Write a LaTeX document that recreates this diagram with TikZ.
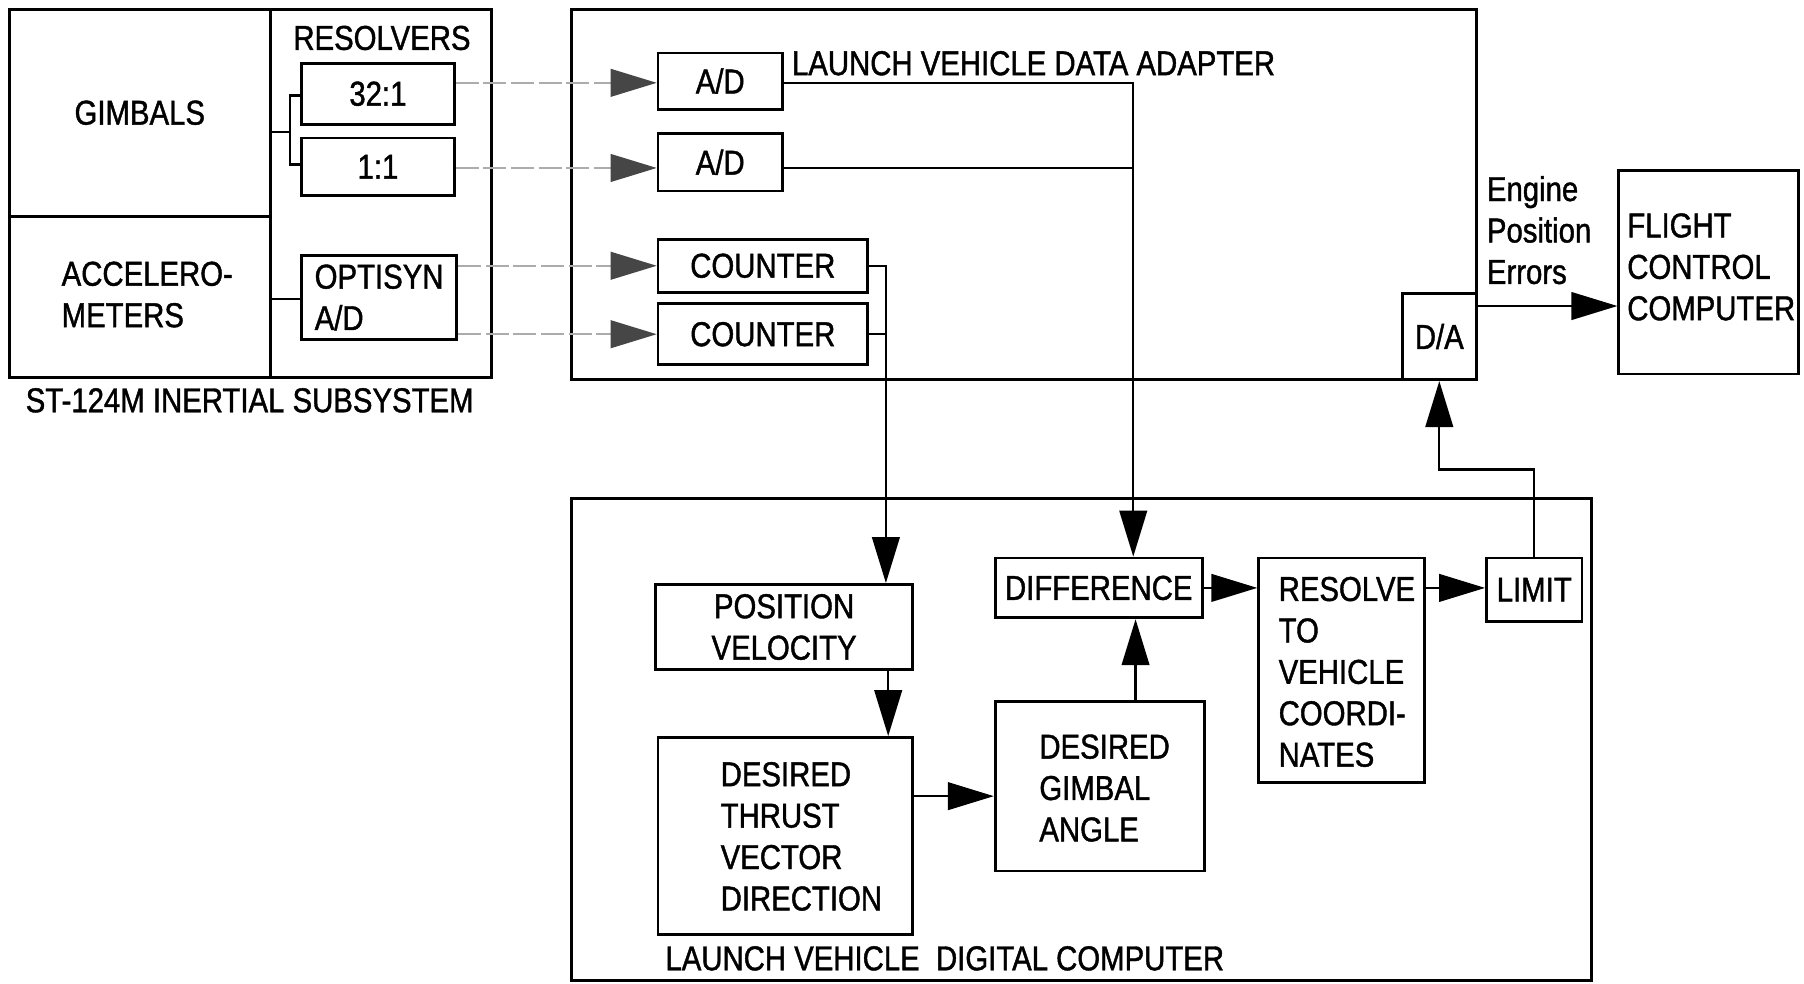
\documentclass[tikz,border=0pt]{standalone}
\usepackage{fontspec}
\setmainfont[FakeStretch=0.85,FakeBold=1.2]{Liberation Sans}
\usetikzlibrary{arrows.meta,fit}
\begin{document}
\begin{tikzpicture}[x=0.5pt,y=-0.5pt,
  box/.style={draw, line width=1.2pt, inner sep=0pt},
  lbl/.style={font=\fontsize{15}{18}\selectfont, align=center, inner sep=0pt},
  ln/.style={line width=1pt},
  arr/.style={line width=1pt, -{Triangle[length=20pt,width=12pt]}},
  gin/.style={draw=gray!65, line width=0.9pt, dash pattern=on 10pt off 2pt,
              -{Triangle[length=20pt,width=12pt,color=gray!55!black,fill=gray!55!black]}}]
\useasboundingbox (0,0) rectangle (1568,855);
% ST-124M inertial subsystem
\node[box, fit={(8,8) (427,328)}] (ist) {};
\node[box, fit={(8,8) (235,188)}] (gimb) {};
\node[lbl] (gimbt) at (gimb.center) {GIMBALS};
\node[box, fit={(8,188) (235,328)}] (accel) {};
\node[lbl, align=left] (accelt) at (128,256) {ACCELERO-\\METERS};
\node[lbl] (resl) at (332,33) {RESOLVERS};
\node[box, fit={(262,55) (395,108)}] (r32) {};
\node[lbl] (r32t) at (r32.center) {32:1};
\node[box, fit={(262,120) (395,170)}] (r11) {};
\node[lbl] (r11t) at (r11.center) {1:1};
\node[box, fit={(262,222) (397,295)}] (opt) {};
\node[lbl, align=left] (optt) at (opt.center) {OPTISYN\\A/D};
\node[lbl] (istcap) at (217,348) {ST-124M INERTIAL SUBSYSTEM};
\draw[ln] (gimb.east |- 0,115) -- (252,115);
\draw[ln] (r32.west |- 0,83) -- (252,83) -- (252,143) -- (r11.west |- 0,143);
\draw[ln] (accel.east |- 0,260) -- (opt.west |- 0,260);
% LVDA
\node[box, fit={(497,8) (1283,330)}] (lvda) {};
\node[box, fit={(572,46) (680,95)}] (ad1) {};
\node[lbl] (ad1t) at (ad1.center) {A/D};
\node[box, fit={(572,116) (680,166)}] (ad2) {};
\node[lbl] (ad2t) at (ad2.center) {A/D};
\node[box, fit={(572,208) (754,254)}] (cnt1) {};
\node[lbl] (cnt1t) at (cnt1.center) {COUNTER};
\node[box, fit={(572,264) (754,317)}] (cnt2) {};
\node[lbl] (cnt2t) at (cnt2.center) {COUNTER};
\node[lbl, anchor=west] (lvdalbl) at (688,55) {LAUNCH VEHICLE DATA ADAPTER};
\node[box, fill=white, fit={(1219,255) (1283,330)}] (da) {};
\node[lbl] (dat) at (da.center) {D/A};
% FCC
\node[box, fit={(1407,148) (1563,325)}] (fcc) {};
\node[lbl, align=left, anchor=west] (fcct) at (1414,232) {FLIGHT\\CONTROL\\COMPUTER};
\node[lbl, align=left, anchor=west] (epe) at (1292,200) {Engine\\Position\\Errors};
% LVDC
\node[box, fit={(497,433) (1383,852)}] (lvdc) {};
\node[box, fit={(570,508) (793,582)}] (pv) {};
\node[lbl] (pvt) at (pv.center) {POSITION\\VELOCITY};
\node[box, fit={(572,641) (793,812)}] (dtvd) {};
\node[lbl, align=left, anchor=west] (dtvdt) at (626,727) {DESIRED\\THRUST\\VECTOR\\DIRECTION};
\node[box, fit={(865,610) (1047,757)}] (dga) {};
\node[lbl, align=left, anchor=west] (dgat) at (903,685) {DESIRED\\GIMBAL\\ANGLE};
\node[box, fit={(865,485) (1045,537)}] (diff) {};
\node[lbl] (difft) at (diff.center) {DIFFERENCE};
\node[box, fit={(1094,485) (1238,680)}] (res) {};
\node[lbl, align=left, anchor=west] (rest) at (1111,584) {RESOLVE\\TO\\VEHICLE\\COORDI-\\NATES};
\node[box, fit={(1292,485) (1375,540)}] (lim) {};
\node[lbl] (limt) at (lim.center) {LIMIT};
\node[lbl, anchor=west] (lvdclbl) at (578,833) {LAUNCH VEHICLE\ \ DIGITAL COMPUTER};
% inputs to LVDA
\draw[gin] (r32.east |- 0,72) -- (ad1.west |- 0,72);
\draw[gin] (r11.east |- 0,146) -- (ad2.west |- 0,146);
\draw[gin] (opt.east |- cnt1.west) -- (cnt1.west);
\draw[gin] (opt.east |- cnt2.west) -- (cnt2.west);
% LVDA outputs
\draw[arr] (ad1.east |- 0,72) -| (diff.north -| 985,0);
\draw[ln] (ad2.east |- 0,146) -- (985,146);
\draw[arr] (cnt1.east) -| (pv.north -| 770,0);
\draw[ln] (cnt2.east) -- (cnt2.east -| 770,0);
% LVDC internal
\draw[arr] (pv.south -| 772,0) -- (dtvd.north -| 772,0);
\draw[arr] (dtvd.east |- 0,692) -- (dga.west |- 0,692);
\draw[arr] (dga.north -| 987,0) -- (diff.south -| 987,0);
\draw[arr] (diff.east |- 0,511) -- (res.west |- 0,511);
\draw[arr] (res.east |- 0,511) -- (lim.west |- 0,511);
\draw[arr] (lim.north) -- (lim.north |- 0,408) -| (da.south);
\draw[arr] (da.east |- 0,266) -- (fcc.west |- 0,266);
\end{tikzpicture}
\end{document}
